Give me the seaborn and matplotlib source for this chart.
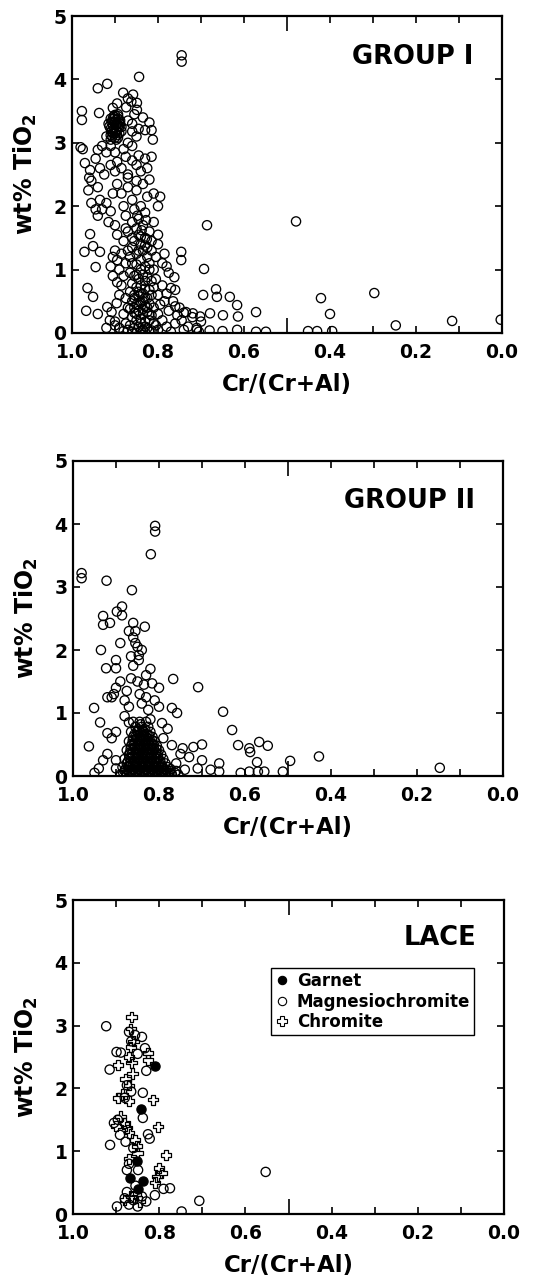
import matplotlib
matplotlib.use("Agg")
import matplotlib.pyplot as plt
import seaborn as sns
import pandas as pd
from matplotlib.lines import Line2D
from matplotlib.ticker import FixedLocator, FixedFormatter

# ---------------- data ----------------
group1_pts = [
    # upper part
    (0.745, 4.38), (0.745, 4.28), (0.844, 4.04), (0.918, 3.93), (0.94, 3.86), (0.881, 3.79),
    (0.858, 3.76), (0.87, 3.70), (0.862, 3.65),
    (0.977, 3.50), (0.937, 3.47), (0.874, 3.56), (0.849, 3.63), (0.849, 3.52), (0.895, 3.62),
    (0.905, 3.55), (0.855, 3.45), (0.835, 3.40), (0.82, 3.32), (0.977, 3.36), (0.893, 3.45),
    (0.90, 3.40), (0.91, 3.38), (0.902, 3.33), (0.895, 3.30), (0.905, 3.28), (0.91, 3.22),
    (0.898, 3.20), (0.89, 3.25), (0.905, 3.15), (0.895, 3.12), (0.90, 3.08), (0.91, 3.05),
    (0.888, 3.35), (0.915, 3.30), (0.885, 3.18), (0.92, 3.10), (0.87, 3.35), (0.86, 3.30),
    (0.86, 3.18), (0.845, 3.22), (0.83, 3.20), (0.815, 3.20), (0.812, 3.05), (0.85, 3.10),
    (0.87, 3.00), (0.90, 3.44), (0.897, 3.36), (0.908, 3.18), (0.893, 3.26),
    # dense dark cluster near 0.90 / 3.25
    (0.893, 3.42), (0.903, 3.42), (0.888, 3.30), (0.898, 3.28), (0.908, 3.32), (0.89, 3.15),
    (0.90, 3.15), (0.91, 3.12), (0.893, 3.08), (0.903, 3.22), (0.885, 3.25), (0.913, 3.26),
    (0.897, 3.05), (0.905, 3.38), (0.893, 3.38), (0.90, 3.32), (0.896, 3.18), (0.906, 3.10),
    # 2.5 - 3.0
    (0.98, 2.93), (0.975, 2.90), (0.94, 2.89), (0.97, 2.68), (0.958, 2.57), (0.945, 2.75),
    (0.93, 2.95), (0.92, 2.85), (0.91, 2.95), (0.90, 2.85), (0.895, 2.70), (0.91, 2.65),
    (0.885, 2.60), (0.90, 2.55), (0.875, 2.78), (0.86, 2.72), (0.85, 2.65), (0.87, 2.50),
    (0.845, 2.80), (0.83, 2.75), (0.84, 2.55), (0.825, 2.60), (0.815, 2.78), (0.86, 2.95),
    (0.88, 2.90), (0.96, 2.45), (0.925, 2.50), (0.935, 2.60),
    # 1.8 - 2.5
    (0.962, 2.25), (0.955, 2.05), (0.945, 1.95), (0.94, 1.85), (0.935, 2.10), (0.93, 1.95),
    (0.92, 2.05), (0.91, 1.92), (0.905, 2.20), (0.915, 1.75), (0.90, 1.70), (0.895, 2.35),
    (0.885, 2.20), (0.88, 2.00), (0.875, 1.85), (0.87, 2.30), (0.86, 2.10), (0.855, 1.95),
    (0.85, 2.25), (0.845, 1.80), (0.84, 2.00), (0.835, 2.35), (0.83, 1.90), (0.825, 2.15),
    (0.82, 2.42), (0.81, 2.20), (0.80, 2.00), (0.795, 2.15), (0.87, 2.45), (0.85, 2.40),
    (0.94, 2.30), (0.955, 2.40),
    # 1.0 - 1.8
    (0.87, 1.60), (0.86, 1.50), (0.855, 1.45), (0.85, 1.65), (0.845, 1.55), (0.84, 1.40),
    (0.835, 1.70), (0.83, 1.50), (0.825, 1.35), (0.82, 1.60), (0.815, 1.45), (0.81, 1.75),
    (0.86, 1.35), (0.85, 1.25), (0.84, 1.15), (0.835, 1.30), (0.83, 1.05), (0.825, 1.20),
    (0.82, 1.10), (0.815, 1.30), (0.81, 1.00), (0.805, 1.20), (0.80, 1.40), (0.79, 1.10),
    (0.78, 1.05), (0.775, 0.95), (0.785, 1.25), (0.80, 1.55), (0.90, 1.30), (0.905, 1.20),
    (0.895, 1.15), (0.91, 1.05), (0.89, 1.00), (0.885, 1.25), (0.875, 1.10), (0.87, 1.30),
    (0.865, 1.20), (0.88, 1.45), (0.895, 1.55), (0.875, 1.65), (0.86, 1.75), (0.848, 1.85),
    (0.838, 1.62), (0.828, 1.78),
    (0.85, 1.08), (0.86, 1.10), (0.845, 1.30), (0.83, 1.38), (0.84, 1.52), (0.826, 1.48),
    # 0 - 1.0 dense column
    (0.865, 0.95), (0.855, 0.90), (0.845, 0.85), (0.835, 0.92), (0.825, 0.88), (0.815, 0.82),
    (0.86, 0.78), (0.85, 0.72), (0.84, 0.75), (0.83, 0.70), (0.82, 0.68), (0.81, 0.72),
    (0.865, 0.65), (0.855, 0.60), (0.845, 0.58), (0.835, 0.62), (0.825, 0.55), (0.815, 0.60),
    (0.86, 0.50), (0.85, 0.45), (0.84, 0.48), (0.83, 0.42), (0.82, 0.46), (0.81, 0.40),
    (0.865, 0.38), (0.855, 0.32), (0.845, 0.35), (0.835, 0.30), (0.825, 0.33), (0.815, 0.28),
    (0.86, 0.25), (0.85, 0.20), (0.84, 0.22), (0.83, 0.18), (0.82, 0.20), (0.81, 0.15),
    (0.865, 0.12), (0.855, 0.08), (0.845, 0.10), (0.835, 0.05), (0.825, 0.08), (0.815, 0.04),
    (0.86, 0.02), (0.85, 0.00), (0.84, 0.03), (0.83, 0.01), (0.82, 0.02), (0.80, 0.05),
    (0.845, 0.65), (0.835, 0.50), (0.825, 0.40), (0.85, 0.30), (0.84, 0.15), (0.83, 0.10),
    (0.82, 0.30), (0.855, 0.55), (0.845, 0.45), (0.835, 0.38), (0.85, 0.92), (0.83, 0.82),
    (0.84, 1.00), (0.82, 1.00), (0.855, 0.40), (0.84, 0.62), (0.83, 0.55),
    (0.805, 0.12), (0.80, 0.30), (0.795, 0.45), (0.80, 0.60), (0.805, 0.85), (0.79, 0.75),
    (0.78, 0.62), (0.785, 0.50), (0.775, 0.35), (0.79, 0.20), (0.78, 0.10), (0.77, 0.02),
    (0.76, 0.15), (0.755, 0.28), (0.765, 0.50), (0.76, 0.68), (0.75, 0.40), (0.745, 0.20),
    (0.74, 0.05), (0.73, 0.10), (0.72, 0.25), (0.735, 0.33), (0.71, 0.08), (0.70, 0.18),
    (0.705, 0.02),
    # left scatter, low values
    (0.918, 0.41), (0.908, 0.33), (0.912, 0.20), (0.90, 0.18), (0.896, 0.47), (0.89, 0.60),
    (0.885, 0.75), (0.88, 0.90), (0.875, 0.55), (0.87, 0.40), (0.88, 0.30), (0.875, 0.15),
    (0.89, 0.08), (0.88, 0.03), (0.87, 0.05), (0.90, 0.12), (0.92, 0.08), (0.905, 0.90),
    (0.895, 0.80),
    (0.971, 1.28), (0.958, 1.56), (0.951, 1.37), (0.935, 1.28), (0.945, 1.04), (0.964, 0.71),
    (0.951, 0.57), (0.967, 0.35), (0.94, 0.30),
    # right-hand scatter and outliers
    (0.686, 1.70), (0.479, 1.76), (0.693, 1.01), (0.746, 1.28), (0.746, 1.15), (0.762, 0.88),
    (0.77, 0.71), (0.695, 0.60), (0.665, 0.69), (0.663, 0.57), (0.633, 0.57), (0.616, 0.44),
    (0.614, 0.26), (0.649, 0.28), (0.679, 0.31), (0.702, 0.26), (0.719, 0.31), (0.74, 0.32),
    (0.76, 0.42), (0.572, 0.33), (0.572, 0.02), (0.549, 0.02), (0.616, 0.05), (0.65, 0.03),
    (0.68, 0.04), (0.71, 0.05), (0.421, 0.55), (0.40, 0.30), (0.451, 0.03), (0.43, 0.03),
    (0.395, 0.03), (0.297, 0.63), (0.247, 0.12), (0.116, 0.19), (0.003, 0.21),
]

group2_pts = [
    # scattered points
    (0.98, 3.22), (0.98, 3.14), (0.922, 3.10), (0.863, 2.95), (0.819, 3.52), (0.809, 3.97),
    (0.809, 3.88), (0.93, 2.54), (0.898, 2.61), (0.886, 2.69), (0.886, 2.55), (0.963, 0.47),
    (0.951, 1.08), (0.937, 0.85), (0.935, 2.00), (0.93, 2.40), (0.914, 2.43), (0.923, 1.71),
    (0.90, 1.84), (0.90, 1.71), (0.90, 1.40), (0.89, 2.11), (0.86, 2.43), (0.86, 2.20),
    (0.855, 2.11), (0.847, 1.92), (0.847, 1.84), (0.833, 2.37), (0.91, 1.25), (0.92, 1.25),
    (0.905, 1.30), (0.816, 1.47), (0.80, 1.40), (0.77, 1.08), (0.758, 1.00), (0.793, 0.84),
    (0.767, 1.54), (0.709, 1.41), (0.651, 1.02), (0.63, 0.73), (0.616, 0.49), (0.59, 0.44),
    (0.588, 0.38), (0.567, 0.54), (0.547, 0.48), (0.572, 0.22), (0.57, 0.07), (0.555, 0.07),
    (0.59, 0.07), (0.61, 0.05), (0.495, 0.24), (0.512, 0.07), (0.428, 0.31), (0.147, 0.13),
    (0.77, 0.49), (0.745, 0.44), (0.72, 0.46), (0.70, 0.50), (0.66, 0.20), (0.70, 0.25),
    (0.74, 0.10), (0.71, 0.12), (0.68, 0.10), (0.66, 0.07), (0.92, 0.35), (0.93, 0.25),
    (0.94, 0.12), (0.95, 0.05), (0.90, 0.25), (0.90, 0.12), (0.91, 0.60), (0.90, 0.70),
    (0.92, 0.68), (0.88, 0.95), (0.87, 1.10), (0.875, 1.35), (0.865, 1.55), (0.86, 1.75),
    (0.85, 1.50), (0.845, 1.30), (0.84, 1.15), (0.835, 1.45), (0.83, 1.25), (0.825, 1.05),
    (0.82, 0.90), (0.84, 2.00), (0.855, 2.30), (0.89, 1.50), (0.88, 1.20), (0.87, 2.30),
    (0.85, 2.05), (0.865, 1.90), (0.83, 1.60), (0.87, 0.85), (0.78, 0.75), (0.79, 0.60),
    (0.75, 0.35), (0.76, 0.20), (0.73, 0.30), (0.80, 1.10), (0.81, 1.20), (0.82, 1.70),
    # dense blob at low TiO2
    (0.89, 0.02), (0.875, 0.02), (0.86, 0.02), (0.845, 0.02), (0.83, 0.02), (0.815, 0.02),
    (0.80, 0.02), (0.785, 0.02), (0.77, 0.02), (0.755, 0.02),
    (0.883, 0.05), (0.868, 0.05), (0.853, 0.05), (0.838, 0.05), (0.823, 0.05), (0.808, 0.05),
    (0.793, 0.05), (0.778, 0.05), (0.763, 0.05),
    (0.88, 0.08), (0.865, 0.08), (0.85, 0.08), (0.835, 0.08), (0.82, 0.08), (0.805, 0.08),
    (0.79, 0.08), (0.775, 0.08), (0.76, 0.08),
    (0.878, 0.11), (0.863, 0.11), (0.848, 0.11), (0.833, 0.11), (0.818, 0.11), (0.803, 0.11),
    (0.788, 0.11), (0.773, 0.11),
    (0.885, 0.14), (0.87, 0.14), (0.855, 0.14), (0.84, 0.14), (0.825, 0.14), (0.81, 0.14),
    (0.795, 0.14), (0.78, 0.14),
    (0.868, 0.17), (0.853, 0.17), (0.838, 0.17), (0.823, 0.17), (0.808, 0.17), (0.793, 0.17),
    (0.875, 0.20), (0.86, 0.20), (0.845, 0.20), (0.83, 0.20), (0.815, 0.20), (0.80, 0.20),
    (0.785, 0.20),
    (0.872, 0.235), (0.857, 0.235), (0.842, 0.235), (0.827, 0.235), (0.812, 0.235),
    (0.797, 0.235),
    (0.88, 0.27), (0.865, 0.27), (0.85, 0.27), (0.835, 0.27), (0.82, 0.27), (0.805, 0.27),
    (0.79, 0.27),
    (0.862, 0.305), (0.847, 0.305), (0.832, 0.305), (0.817, 0.305), (0.802, 0.305),
    (0.87, 0.34), (0.855, 0.34), (0.84, 0.34), (0.825, 0.34), (0.81, 0.34), (0.795, 0.34),
    (0.867, 0.375), (0.852, 0.375), (0.837, 0.375), (0.822, 0.375), (0.807, 0.375),
    (0.875, 0.41), (0.86, 0.41), (0.845, 0.41), (0.83, 0.41), (0.815, 0.41), (0.80, 0.41),
    (0.857, 0.445), (0.842, 0.445), (0.827, 0.445), (0.812, 0.445),
    (0.865, 0.48), (0.85, 0.48), (0.835, 0.48), (0.82, 0.48), (0.805, 0.48),
    (0.862, 0.515), (0.847, 0.515), (0.832, 0.515), (0.817, 0.515),
    (0.87, 0.55), (0.855, 0.55), (0.84, 0.55), (0.825, 0.55), (0.81, 0.55),
    (0.852, 0.585), (0.837, 0.585), (0.822, 0.585),
    (0.86, 0.62), (0.845, 0.62), (0.83, 0.62), (0.815, 0.62),
    (0.857, 0.66), (0.842, 0.66), (0.827, 0.66),
    (0.865, 0.70), (0.85, 0.70), (0.835, 0.70), (0.82, 0.70),
    (0.847, 0.74), (0.832, 0.74),
    (0.855, 0.78), (0.84, 0.78), (0.825, 0.78),
    (0.86, 0.86), (0.845, 0.86), (0.83, 0.86),
    # extra points filling the core of the blob
    (0.876, 0.035), (0.861, 0.035), (0.846, 0.035), (0.831, 0.035), (0.816, 0.035),
    (0.801, 0.035), (0.786, 0.035), (0.771, 0.035),
    (0.873, 0.095), (0.858, 0.095), (0.843, 0.095), (0.828, 0.095), (0.813, 0.095),
    (0.798, 0.095), (0.783, 0.095),
    (0.871, 0.155), (0.856, 0.155), (0.841, 0.155), (0.826, 0.155), (0.811, 0.155),
    (0.796, 0.155),
    (0.866, 0.215), (0.851, 0.215), (0.836, 0.215), (0.821, 0.215), (0.806, 0.215),
    (0.869, 0.285), (0.854, 0.285), (0.839, 0.285), (0.824, 0.285), (0.809, 0.285),
    (0.863, 0.355), (0.848, 0.355), (0.833, 0.355), (0.818, 0.355), (0.803, 0.355),
    (0.866, 0.43), (0.851, 0.43), (0.836, 0.43), (0.821, 0.43), (0.806, 0.43),
    (0.858, 0.50), (0.843, 0.50), (0.828, 0.50), (0.813, 0.50),
    (0.861, 0.57), (0.846, 0.57), (0.831, 0.57), (0.816, 0.57),
    (0.853, 0.64), (0.838, 0.64), (0.823, 0.64),
    (0.85, 0.72), (0.838, 0.72), (0.843, 0.82),
]

lace_magnesiochromite = [
    (0.923, 2.99), (0.856, 2.85), (0.84, 2.82), (0.899, 2.58), (0.889, 2.57), (0.833, 2.64),
    (0.915, 2.30), (0.83, 2.28), (0.875, 2.05), (0.865, 1.95), (0.838, 1.93), (0.88, 1.85),
    (0.838, 1.53), (0.896, 1.50), (0.905, 1.45), (0.891, 1.26), (0.826, 1.27), (0.822, 1.20),
    (0.914, 1.10), (0.878, 1.15), (0.86, 1.05), (0.87, 0.80), (0.849, 0.70), (0.875, 0.70),
    (0.855, 0.45), (0.79, 0.40), (0.775, 0.41), (0.81, 0.30), (0.898, 0.12), (0.88, 0.25),
    (0.87, 0.15), (0.86, 0.22), (0.85, 0.12), (0.84, 0.28), (0.83, 0.20), (0.875, 0.35),
    (0.707, 0.21), (0.748, 0.04), (0.553, 0.67), (0.865, 2.75), (0.87, 2.90), (0.85, 2.55),
]
lace_chromite = [
    (0.864, 3.14), (0.866, 2.95), (0.866, 2.66), (0.896, 2.37), (0.864, 2.41), (0.862, 2.24),
    (0.826, 2.56), (0.826, 2.45), (0.878, 2.15), (0.87, 2.05), (0.896, 1.85), (0.885, 1.90),
    (0.87, 1.80), (0.814, 1.82), (0.88, 1.45), (0.875, 1.38), (0.87, 1.30), (0.803, 1.39),
    (0.856, 1.18), (0.852, 1.08), (0.85, 0.97), (0.784, 0.94), (0.87, 0.88), (0.80, 0.73),
    (0.795, 0.65), (0.805, 0.60), (0.81, 0.50), (0.88, 0.22), (0.865, 0.28), (0.845, 0.20),
    (0.855, 0.32), (0.87, 2.50), (0.86, 2.75), (0.89, 1.55), (0.90, 1.40),
]
lace_garnet = [
    (0.81, 2.35), (0.843, 1.67), (0.852, 0.84), (0.868, 0.58), (0.838, 0.52), (0.85, 0.40),
]

panel_titles = ["GROUP I", "GROUP II", "LACE"]
legend_labels = ["Garnet", "Magnesiochromite", "Chromite"]
x_tick_vals = [0.0, 0.1, 0.2, 0.3, 0.4, 0.6, 0.7, 0.8, 0.9, 1.0]
x_tick_text = ["0.0", "", "0.2", "", "0.4", "0.6", "", "0.8", "", "1.0"]
y_tick_vals = [0, 1, 2, 3, 4, 5]
x_label = "Cr/(Cr+Al)"
y_label = "wt% TiO$_2$"


def to_df(pts):
    return pd.DataFrame(pts, columns=["crcral", "tio2"])


# ---------------- figure ----------------
sns.set_style("ticks")
plt.rcParams['font.family'] = ['DejaVu Sans']
plt.rcParams['font.weight'] = 'bold'
plt.rcParams['axes.labelweight'] = 'bold'
plt.rcParams['mathtext.default'] = 'bf'
for key in ['text.color', 'axes.labelcolor', 'xtick.color', 'ytick.color', 'axes.edgecolor']:
    plt.rcParams[key] = 'black'

fig = plt.figure(figsize=(5.43, 12.83), dpi=100)
rects = [
    [72 / 543, 1 - 333 / 1283, 430 / 543, 317 / 1283],
    [73 / 543, 1 - 776 / 1283, 430 / 543, 315 / 1283],
    [73 / 543, 1 - 1214 / 1283, 431 / 543, 314 / 1283],
]
title_pos = [(0.933, 0.872), (0.935, 0.873), (0.937, 0.879)]

circ_kw = dict(marker="o", s=44, facecolor="none", edgecolor="black", linewidth=0.95)

axes = [fig.add_axes(r) for r in rects]

sns.scatterplot(data=to_df(group1_pts), x="crcral", y="tio2", ax=axes[0], legend=False, **circ_kw)
sns.scatterplot(data=to_df(group2_pts), x="crcral", y="tio2", ax=axes[1], legend=False, **circ_kw)

ax3 = axes[2]
sns.scatterplot(data=to_df(lace_magnesiochromite), x="crcral", y="tio2", ax=ax3,
                legend=False, **circ_kw)
sns.scatterplot(data=to_df(lace_chromite), x="crcral", y="tio2", ax=ax3, legend=False,
                marker="P", s=56, facecolor="none", edgecolor="black", linewidth=0.9)
sns.scatterplot(data=to_df(lace_garnet), x="crcral", y="tio2", ax=ax3, legend=False,
                marker="o", s=44, facecolor="black", edgecolor="black", linewidth=0.9)

for i, ax in enumerate(axes):
    ax.set_xlim(1.0, 0.0)
    ax.set_ylim(0, 5)
    ax.xaxis.set_major_locator(FixedLocator(x_tick_vals))
    ax.xaxis.set_major_formatter(FixedFormatter(x_tick_text))
    ax.xaxis.set_minor_locator(FixedLocator([0.5]))
    ax.yaxis.set_major_locator(FixedLocator(y_tick_vals))
    ax.tick_params(axis="both", which="major", direction="in", top=True, right=True,
                   length=5, width=1.2, labelsize=13.5, color="black", labelcolor="black")
    ax.tick_params(axis="x", which="minor", direction="in", top=True, bottom=True,
                   length=11, width=1.2, color="black")
    ax.tick_params(axis="x", which="major", pad=7)
    ax.tick_params(axis="y", which="major", pad=4)
    for lab in ax.get_xticklabels() + ax.get_yticklabels():
        lab.set_fontweight("bold")
    for sp in ax.spines.values():
        sp.set_linewidth(1.6)
        sp.set_color("black")
    ax.set_xlabel(x_label, fontsize=16.5, fontweight="bold", labelpad=8, color="black")
    ax.set_ylabel(y_label, fontsize=17, fontweight="bold", labelpad=10, color="black")
    ax.text(title_pos[i][0], title_pos[i][1], panel_titles[i], transform=ax.transAxes,
            ha="right", va="center", fontsize=18.5, fontweight="bold", color="black")
    ax.grid(False)

handles = [
    Line2D([], [], linestyle="none", marker="o", markersize=6, markerfacecolor="black",
           markeredgecolor="black", markeredgewidth=0.8),
    Line2D([], [], linestyle="none", marker="o", markersize=6, markerfacecolor="white",
           markeredgecolor="black", markeredgewidth=0.8),
    Line2D([], [], linestyle="none", marker="P", markersize=7.5, markerfacecolor="white",
           markeredgecolor="black", markeredgewidth=0.8),
]
leg = ax3.legend(handles, legend_labels, loc="upper left", bbox_to_anchor=(0.459, 0.783),
                 borderaxespad=0, frameon=True, fancybox=False, framealpha=1,
                 edgecolor="black", handlelength=0.8, handletextpad=0.5,
                 borderpad=0.25, labelspacing=0.15, prop={"weight": "bold", "size": 12})
leg.get_frame().set_linewidth(1.0)

fig.savefig("out.png", dpi=100)
